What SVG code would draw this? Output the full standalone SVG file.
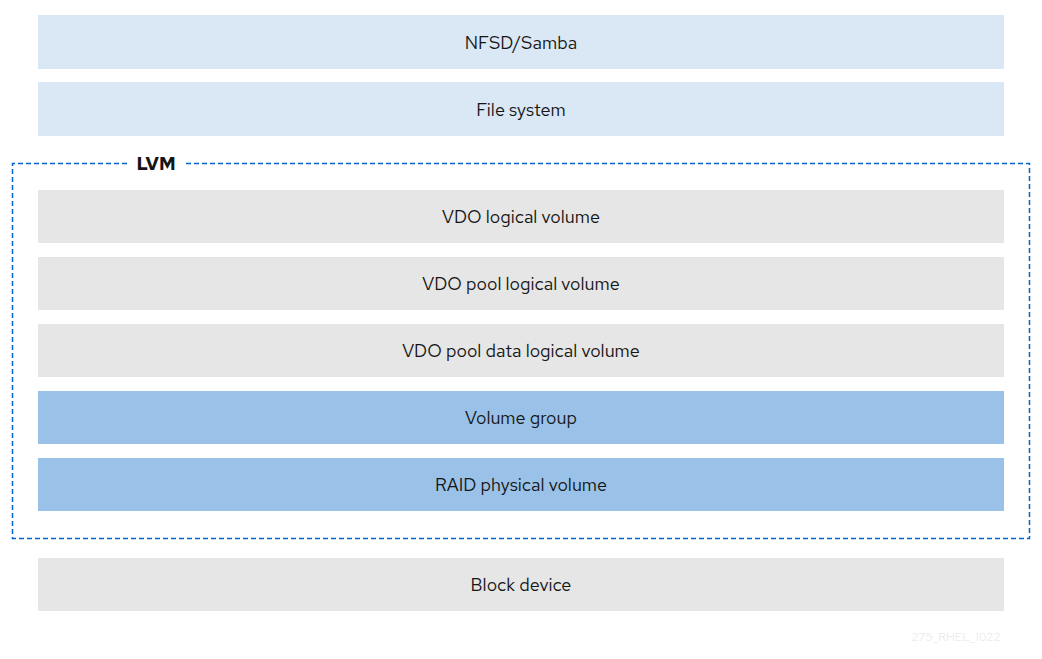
<svg xmlns="http://www.w3.org/2000/svg" width="1042" height="659" viewBox="0 0 1042 659">
<style>
.lt{fill:#dae8f6}.gr{fill:#e6e6e6}.bl{fill:#9ac2e8}
text{font-family:"Red Hat Text","Noto Sans","Liberation Sans",sans-serif;font-size:18px;fill:#151515;text-anchor:middle;dominant-baseline:central}
</style>
<rect width="1042" height="659" fill="#fff"/>
<g id="connectors"></g>
<g id="lvm">
<path d="M127 163.5H12.5V538.5H1029.5V163.5H185" fill="none" stroke="#0066cc" stroke-width="1.5" stroke-dasharray="5,3"/>
<text x="156" y="163" style="font-weight:bold">LVM</text>
</g>
<g id="nfsd"><rect class="lt" x="38" y="15" width="966" height="54"/><text x="521" y="42">NFSD/Samba</text></g>
<g id="fs"><rect class="lt" x="38" y="82" width="966" height="54"/><text x="521" y="109">File system</text></g>
<g id="vdolv"><rect class="gr" x="38" y="190" width="966" height="53"/><text x="521" y="216">VDO logical volume</text></g>
<g id="vdopool"><rect class="gr" x="38" y="257" width="966" height="53"/><text x="521" y="283">VDO pool logical volume</text></g>
<g id="vdodata"><rect class="gr" x="38" y="324" width="966" height="53"/><text x="521" y="350">VDO pool data logical volume</text></g>
<g id="vg"><rect class="bl" x="38" y="391" width="966" height="53"/><text x="521" y="417">Volume group</text></g>
<g id="pv"><rect class="bl" x="38" y="458" width="966" height="53"/><text x="521" y="484">RAID physical volume</text></g>
<g id="block"><rect class="gr" x="38" y="558" width="966" height="53"/><text x="521" y="584">Block device</text></g>
<text x="956" y="637" style="font-size:12px;fill:#ececec">275_RHEL_1022</text>
</svg>
